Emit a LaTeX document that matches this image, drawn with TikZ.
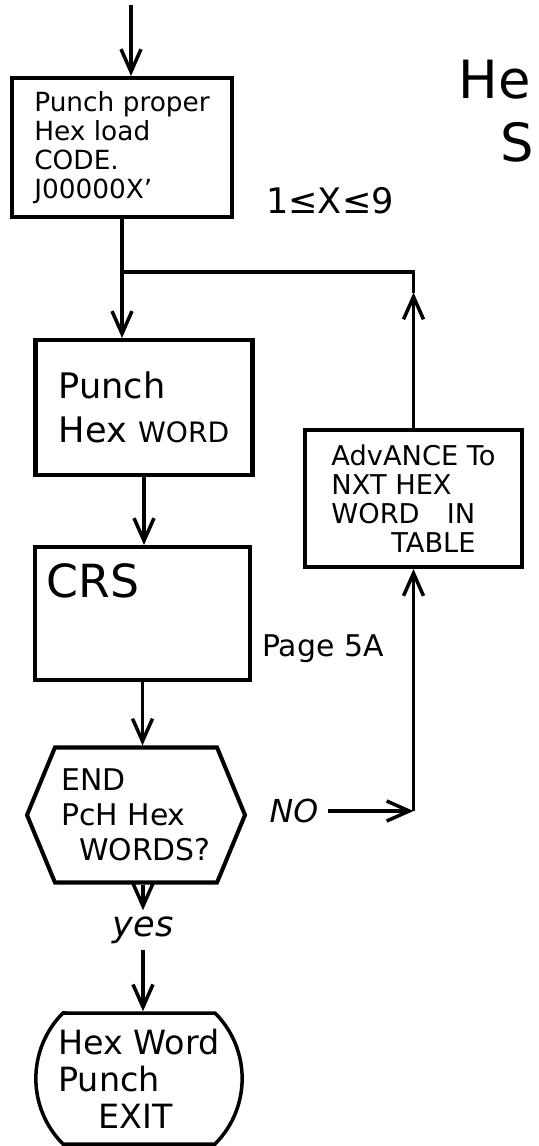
\documentclass[tikz,border=0pt]{standalone}
\usepackage{fontspec}
\setmainfont{DejaVu Sans}
\usetikzlibrary{shapes,arrows.meta,positioning}

\begin{document}
\begin{tikzpicture}[
  box/.style={draw,line width=2.3pt,align=left,inner sep=2pt},
  decide/.style={draw,line width=2.3pt,signal,signal to=west and east,signal pointer angle=135,align=left,minimum width=4.36cm,minimum height=2.7cm,inner sep=1pt},
  term/.style={draw,line width=2pt,rounded rectangle,rounded rectangle arc length=90,align=left,minimum width=4.36cm,minimum height=2.62cm},
  arr/.style={-{Straight Barb[length=4.5mm,width=4mm]},line width=2pt},
  link/.style={line width=2pt}
]
  \useasboundingbox (0,0) rectangle (10.78,-22.92);

  % Title (runs off the page)
  \node[font=\fontsize{30}{30}\selectfont] (title) at (9.9,-1.6) {He};
  \node[font=\fontsize{30}{30}\selectfont] (title2) at (10.34,-2.84) {S};

  % Main column
  \coordinate (start) at (2.62,-0.1);
  \node[box,minimum width=4.4cm,minimum height=2.78cm,font=\fontsize{15}{16.5}\selectfont] (load) at (2.44,-2.95) {Punch proper\\Hex load\\CODE.\\J00000X'};
  \node[font=\fontsize{20}{20}\selectfont] (range) at (6.6,-4.02) {1≤X≤9};
  \coordinate (join) at (2.44,-5.44);

  \node[box,minimum width=4.34cm,minimum height=2.7cm,font=\fontsize{20}{25}\selectfont] (word) at (2.88,-8.15) {Punch\\Hex {\fontsize{16}{16}\selectfont WORD}};
  \node[box,minimum width=4.3cm,minimum height=2.66cm,label={[font=\fontsize{26}{26}\selectfont,anchor=north west,xshift=0.15cm,yshift=-0.25cm]north west:CRS}] (crs) at (2.85,-12.27) {};
  \node[font=\fontsize{17}{17}\selectfont,anchor=west] (page) at (5.12,-12.98) {Page 5A};

  \node[decide,font=\fontsize{17}{20}\selectfont] (dec) at (2.72,-16.3) {END\\PcH Hex\\\hspace{0.6em}WORDS?};
  \node[font=\itshape\fontsize{20}{20}\selectfont] (yes) at (2.86,-18.6) {yes};
  \node[term,font=\fontsize{19}{21}\selectfont] (exit) at (2.78,-21.57) {Hex Word\\Punch\\\hspace{1.2em}EXIT};

  % Loop back
  \node[box,minimum width=4.34cm,minimum height=2.74cm,font=\fontsize{15.5}{16.5}\selectfont] (adv) at (8.27,-9.97) {AdvANCE To\\NXT HEX\\WORD\quad IN\\\hspace{2.2em}TABLE};
  \node[font=\itshape\fontsize{18}{18}\selectfont] (no) at (5.88,-16.22) {NO};
  \coordinate (turn) at (8.27,-16.22);
  \coordinate (back) at (8.27,-5.85);

  % Flow lines
  \draw[arr] (start) -- (start |- load.north);
  \draw[link] (load.south) -- (join);
  \draw[arr] (join) -- (join |- word.north);
  \draw[arr] (word.south) -- (word.south |- crs.north);
  \draw[arr] (crs.south) -- (crs.south |- dec.north);
  \draw[arr] (yes |- dec.south) -- (yes.north);
  \draw[arr] (yes.south) -- (yes.south |- exit.north);
  \draw[arr,shorten <=2pt] (no) -- (turn);
  \draw[arr] (turn) -- (turn |- adv.south);
  \draw[arr] (adv.north) -- (back);
  \draw[link] (back) -- (back |- join) -- (join);
\end{tikzpicture}
\end{document}
